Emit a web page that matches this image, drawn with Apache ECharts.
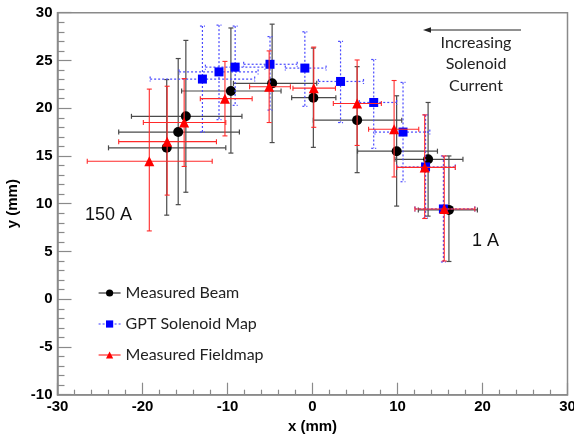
<!DOCTYPE html>
<html>
<head>
<meta charset="utf-8">
<script src="https://cdn.jsdelivr.net/npm/echarts@6/dist/echarts.min.js"></script>
<style>
  html, body { margin: 0; padding: 0; background: #fff; }
  #chart { width: 574px; height: 434px; }
</style>
</head>
<body>
<div id="chart"></div>
<script>
// Beam centroid positions with their spread.
// Each row: x, y, x low, x high, y low, y high  (all in mm)
const measuredBeam = [
  [-17.15, 15.85, -24.0, -10.2,  8.8, 23.0],
  [-15.8,  17.5,  -22.8,  -8.6,  9.9, 25.2],
  [-14.9,  19.15, -21.3,  -8.3, 11.2, 27.1],
  [ -9.6,  21.8,  -15.4,  -3.7, 15.3, 28.4],
  [ -4.75, 22.6,   -9.3,   0.5, 16.4, 28.8],
  [  0.1,  21.1,   -2.45,  2.75, 15.9, 26.3],
  [  5.25, 18.75,   0.1,  10.5, 13.25, 24.35],
  [  9.9,  15.5,    5.3,  14.7,  9.75, 21.3],
  [ 13.6,  14.65,   9.7,  17.7,  8.7, 20.6],
  [ 16.05,  9.35,  12.45, 19.4,  3.95, 15.0]
];
const gptSolenoidMap = [
  [-12.95, 23.05, -19.1,  -6.8, 17.5, 28.6],
  [-11.0,  23.8,  -15.7,  -6.4, 18.8, 28.7],
  [ -9.1,  24.3,  -12.6,  -5.6, 20.3, 28.6],
  [ -5.0,  24.6,   -8.1,  -1.8, 19.8, 27.5],
  [ -0.9,  24.2,   -3.2,   1.6, 20.2, 28.0],
  [  3.3,  22.8,    0.7,   6.0, 18.5, 27.0],
  [  7.2,  20.6,    5.5,   9.9, 15.8, 25.1],
  [ 10.65, 17.5,    7.35, 13.8, 12.3, 22.7],
  [ 13.3,  13.85,   9.9,  16.8,  8.5, 19.3],
  [ 15.4,   9.45,  12.05, 19.1,  3.9, 15.0]
];
const measuredFieldmap = [
  [-19.2,  14.45, -26.5, -11.8,  7.15, 22.0],
  [-17.1,  16.5,  -22.8, -11.3, 10.9, 22.3],
  [-15.1,  18.5,  -19.9, -10.2, 13.9, 23.1],
  [-10.3,  21.0,  -13.2,  -7.1, 17.1, 24.9],
  [ -5.1,  22.25,  -7.4,  -2.6, 18.5, 26.0],
  [  0.15, 22.1,   -2.3,   2.7, 18.0, 26.4],
  [  5.25, 20.5,    2.45,  8.1, 16.1, 25.05],
  [  9.6,  17.8,    6.6,  12.5, 12.8, 22.9],
  [ 13.2,  13.8,    9.9,  16.8,  8.45, 19.3],
  [ 15.5,   9.45,  12.05, 19.1,  4.0, 15.0]
];
const seriesNames = ['Measured Beam', 'GPT Solenoid Map', 'Measured Fieldmap'];

const chart = echarts.init(document.getElementById('chart'), null, { renderer: 'canvas' });

// Draws the crossed error bars (with small end caps) for one data row.
function errorBarRenderer(color, dash, width) {
  return function (params, api) {
    const c = api.coord([api.value(0), api.value(1)]);
    const l = api.coord([api.value(2), api.value(1)]);
    const r = api.coord([api.value(3), api.value(1)]);
    const b = api.coord([api.value(0), api.value(4)]);
    const t = api.coord([api.value(0), api.value(5)]);
    const cap = 2.5;
    const seg = (x1, y1, x2, y2) => ({
      type: 'line',
      shape: { x1, y1, x2, y2 },
      style: { stroke: color, lineWidth: width, lineDash: dash, fill: null }
    });
    return {
      type: 'group',
      children: [
        seg(l[0], c[1], r[0], c[1]),
        seg(c[0], t[1], c[0], b[1]),
        seg(l[0], c[1] - cap, l[0], c[1] + cap),
        seg(r[0], c[1] - cap, r[0], c[1] + cap),
        seg(c[0] - cap, t[1], c[0] + cap, t[1]),
        seg(c[0] - cap, b[1], c[0] + cap, b[1])
      ]
    };
  };
}

function barSeries(rows, color, dash, width, z) {
  return {
    type: 'custom',
    data: rows,
    encode: { x: [0, 2, 3], y: [1, 4, 5] },
    renderItem: errorBarRenderer(color, dash, width),
    silent: true,
    z: z
  };
}

function markerSeries(name, rows, symbol, size, color, z) {
  return {
    name: name,
    type: 'line',
    data: rows.map(r => [r[0], r[1]]),
    symbol: symbol,
    symbolSize: size,
    showSymbol: true,
    itemStyle: { color: color, borderWidth: 0 },
    lineStyle: { opacity: 0 },
    silent: true,
    z: z
  };
}

const axisFont = { fontFamily: 'Liberation Sans', fontWeight: 'bold', fontSize: 15, color: '#000' };
const axisGray = '#8a8a8a';

chart.setOption({
  animation: false,
  backgroundColor: '#fff',
  grid: {
    left: 57.5, right: 6.5, top: 12.7, bottom: 39.3,
    outerBoundsMode: 'none',
    containLabel: false,
    show: true, borderColor: axisGray, borderWidth: 1.5, backgroundColor: 'transparent'
  },
  xAxis: {
    type: 'value', min: -30, max: 30, interval: 10,
    name: 'x (mm)', nameLocation: 'middle', nameGap: 20,
    nameTextStyle: axisFont,
    axisLine: { show: true, onZero: false, lineStyle: { color: axisGray, width: 1.5 } },
    axisTick: { show: true, inside: true, length: 12, lineStyle: { color: axisGray, width: 1.2 } },
    minorTick: { show: true, splitNumber: 5, length: 5, lineStyle: { color: axisGray, width: 1.2 } },
    axisLabel: Object.assign({ margin: 5 }, axisFont),
    splitLine: { show: false }
  },
  yAxis: {
    type: 'value', min: -10, max: 30, interval: 5,
    name: 'y (mm)', nameLocation: 'middle', nameGap: 30,
    nameTextStyle: axisFont,
    axisLine: { show: true, onZero: false, lineStyle: { color: axisGray, width: 1.5 } },
    axisTick: { show: true, inside: true, length: 14, lineStyle: { color: axisGray, width: 1.2 } },
    minorTick: { show: true, splitNumber: 5, length: 7, lineStyle: { color: axisGray, width: 1.2 } },
    axisLabel: Object.assign({ margin: 5 }, axisFont),
    splitLine: { show: false }
  },
  legend: {
    orient: 'vertical', left: 93, top: 280,
    itemWidth: 22, itemHeight: 9, itemGap: 15,
    textStyle: { fontFamily: 'Lato', fontSize: 16, color: '#222' },
    data: [
      { name: seriesNames[0], lineStyle: { color: '#333', width: 1.2, type: 'solid', opacity: 1 } },
      { name: seriesNames[1], lineStyle: { color: '#3b3bff', width: 1.2, type: [2, 2], opacity: 1 } },
      { name: seriesNames[2], lineStyle: { color: '#ff3030', width: 1.2, type: 'solid', opacity: 1 } }
    ]
  },
  series: [
    barSeries(measuredBeam, '#4a4a4a', null, 1.2, 2),
    markerSeries(seriesNames[0], measuredBeam, 'circle', 10, '#000', 3),
    barSeries(gptSolenoidMap, '#4a4aff', [2, 2], 1.2, 4),
    markerSeries(seriesNames[1], gptSolenoidMap, 'rect', 9, '#0000ff', 5),
    barSeries(measuredFieldmap, '#ff2a2a', null, 1.1, 6),
    markerSeries(seriesNames[2], measuredFieldmap, 'triangle', 10, '#ff0000', 7)
  ],
  graphic: [
    { type: 'text', left: 85, top: 206, style: { text: '150 A', font: '18px "Liberation Sans"', fill: '#111' } },
    { type: 'text', left: 472, top: 232, style: { text: '1 A', font: '18px "Liberation Sans"', fill: '#111' } },
    { type: 'line', shape: { x1: 428, y1: 30, x2: 521, y2: 30 }, style: { stroke: '#222', lineWidth: 1 } },
    { type: 'polygon', shape: { points: [[423, 30], [431, 27.3], [431, 32.7]] }, style: { fill: '#222' } },
    {
      type: 'text', x: 476, y: 32,
      style: {
        text: 'Increasing\nSolenoid\nCurrent',
        font: '16px Lato', fill: '#222', align: 'center', verticalAlign: 'top', lineHeight: 21.5
      }
    }
  ]
});
</script>
</body>
</html>
